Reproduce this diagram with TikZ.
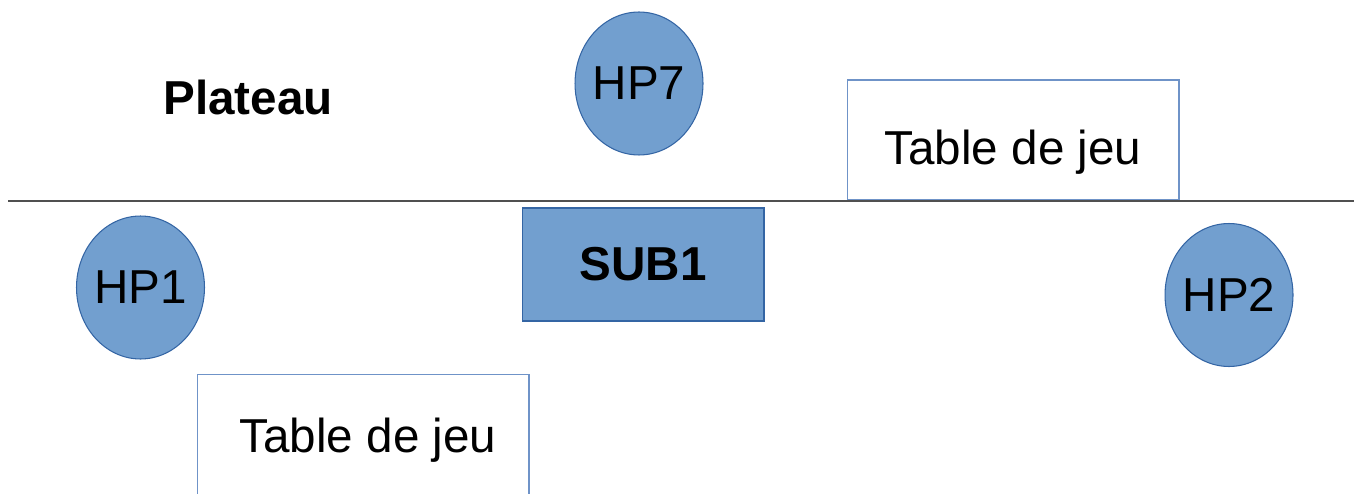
\documentclass[tikz,border=0pt]{standalone}
\usepackage{fontspec}
\setmainfont{Liberation Sans}
\usetikzlibrary{shapes.geometric, positioning}
\definecolor{hpfill}{HTML}{729FCF}
\definecolor{hpline}{HTML}{3465A4}
\definecolor{tableline}{HTML}{6F93C8}
\definecolor{sepline}{HTML}{505050}
\newcommand{\bigtxt}{\fontsize{27.1}{31}\selectfont}
\newcommand{\hpname}[1]{\makebox[0pt]{#1}}

\begin{document}
\begin{tikzpicture}[x=0.02cm, y=-0.02cm,
    hp/.style={ellipse, draw=hpline, fill=hpfill, line width=0.6pt,
        minimum width=2.56cm, minimum height=2.86cm, inner sep=0pt, font=\bigtxt},
    sub/.style={rectangle, draw=hpline, fill=hpfill, line width=0.6pt,
        minimum width=4.84cm, minimum height=2.26cm, inner sep=0pt, font=\bigtxt\bfseries},
    jeu/.style={rectangle, draw=tableline, line width=0.6pt,
        minimum width=6.64cm, minimum height=2.4cm, inner sep=0pt, text depth=0pt, font=\bigtxt},
]
\useasboundingbox (0,0) rectangle (1364,493);
\clip (0,0) rectangle (1364,493);

% upper half
\node (plateau) at (248,97) {\bigtxt\bfseries Plateau};
\node (HPseven) [hp] at (639,83.5) {\hpname{HP7}};
\node (tableA) [jeu, text height=1cm] at (1013,140) {Table de jeu};

% separation
\coordinate (sepL) at (8,201);
\coordinate (sepR) at (1354,201);
\draw[sepline, line width=0.85pt] (sepL) -- (sepR);

% lower half
\node (HPone) [hp] at (140.5,287.5) {\hpname{HP1}};
\node (SUBone) [sub] at (643,264.5) {SUB1};
\node (HPtwo) [hp] at (1229,295) {\hpname{HP2}};
\node (tableB) [jeu, text height=0.72cm] at (363,434.5) {\hspace{0.2cm}Table de jeu};
\end{tikzpicture}
\end{document}
